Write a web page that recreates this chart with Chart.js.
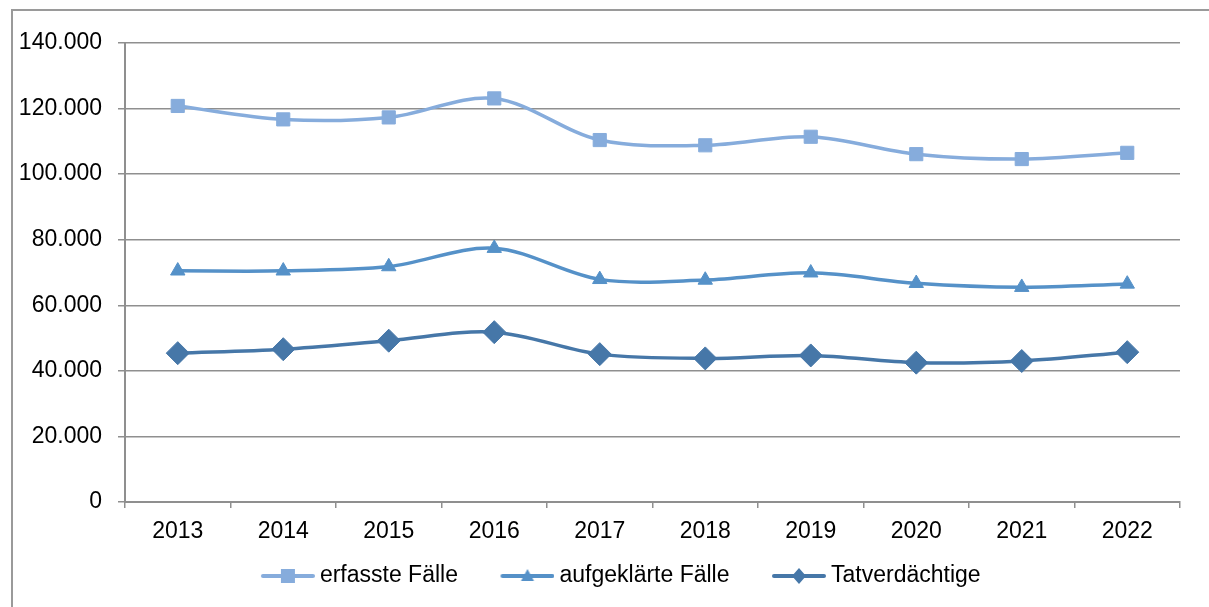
<!DOCTYPE html>
<html lang="de">
<head>
<meta charset="utf-8">
<title>Fälle und Tatverdächtige 2013-2022</title>
<script src="https://cdn.jsdelivr.net/npm/chart.js@4/dist/chart.umd.min.js"></script>
<style>
  html, body { margin: 0; padding: 0; background: #fff; overflow: hidden; }
  #rahmen {
    position: absolute; left: 11px; top: 9px; width: 1400px; height: 800px;
    border-left: 2px solid #9a9a9a; border-top: 2px solid #9a9a9a;
  }
  #box { position: absolute; left: 0; top: 0; width: 1209px; height: 607px; }
</style>
</head>
<body>
<div id="rahmen"></div>
<div id="box"><canvas id="grafik" width="1209" height="607"></canvas></div>
<script>
// Daten
const jahre = ["2013", "2014", "2015", "2016", "2017", "2018", "2019", "2020", "2021", "2022"];
const erfassteFaelle = [120800, 116700, 117300, 123100, 110400, 108800, 111400, 106100, 104600, 106500];
const aufgeklaerteFaelle = [70500, 70500, 71800, 77400, 67900, 67700, 69900, 66700, 65500, 66500];
const tatverdaechtige = [45400, 46600, 49200, 51800, 45100, 43800, 44700, 42500, 43000, 45700];

const namen = ["erfasste Fälle", "aufgeklärte Fälle", "Tatverdächtige"];
const farben = ["#86acdc", "#5591c8", "#4677a8"];

const schrift = { family: "Arial, 'Liberation Sans', sans-serif", size: 23 };
const grau = "#8f8f8f";

// 20000 -> "20.000"
function tausender(v) {
  return String(v).replace(/\B(?=(\d{3})+(?!\d))/g, ".");
}

// Legendensymbol: Linie mit Marker, rechts im Bild (links bleibt Luft zum vorigen Eintrag)
function legendenSymbol(farbe, form) {
  const c = document.createElement("canvas");
  c.width = 93;
  c.height = 24;
  const ctx = c.getContext("2d");
  const x0 = c.width - 54, mx = c.width - 27, my = 12;
  ctx.strokeStyle = farbe;
  ctx.fillStyle = farbe;
  ctx.lineWidth = 4;
  ctx.lineCap = "round";
  ctx.beginPath();
  ctx.moveTo(x0 + 2, my);
  ctx.lineTo(c.width - 2, my);
  ctx.stroke();
  ctx.beginPath();
  if (form === "rect") {
    ctx.rect(mx - 7, my - 7, 14, 14);
  } else if (form === "triangle") {
    ctx.moveTo(mx, my - 7);
    ctx.lineTo(mx + 6.5, my + 5);
    ctx.lineTo(mx - 6.5, my + 5);
    ctx.closePath();
  } else {
    ctx.moveTo(mx, my - 8);
    ctx.lineTo(mx + 7, my);
    ctx.lineTo(mx, my + 8);
    ctx.lineTo(mx - 7, my);
    ctx.closePath();
  }
  ctx.fill();
  return c;
}

const symbole = [
  legendenSymbol(farben[0], "rect"),
  legendenSymbol(farben[1], "triangle"),
  legendenSymbol(farben[2], "rectRot")
];

function serie(i, werte, form, radius, breite) {
  return {
    label: namen[i],
    data: werte,
    borderColor: farben[i],
    backgroundColor: farben[i],
    borderWidth: breite,
    tension: 0.33,
    pointStyle: form,
    pointRadius: radius,
    pointHoverRadius: radius,
    pointBorderWidth: 1,
    pointBackgroundColor: farben[i],
    pointBorderColor: farben[i]
  };
}

new Chart(document.getElementById("grafik"), {
  type: "line",
  data: {
    labels: jahre,
    datasets: [
      serie(0, erfassteFaelle, "rect", 9.3, 3.5),
      serie(1, aufgeklaerteFaelle, "triangle", 8.3, 3.5),
      serie(2, tatverdaechtige, "rectRot", 11.5, 3.5)
    ]
  },
  options: {
    responsive: false,
    animation: false,
    events: [],
    layout: { padding: { left: 0, right: 0, top: 43, bottom: 9.5 } },
    plugins: {
      tooltip: { enabled: false },
      legend: {
        position: "bottom",
        align: "center",
        labels: {
          usePointStyle: true,
          pointStyleWidth: 80,
          padding: 10,
          color: "#000",
          font: schrift,
          generateLabels(chart) {
            const items = Chart.defaults.plugins.legend.labels.generateLabels(chart);
            items.forEach((it, i) => { it.pointStyle = symbole[i]; });
            return items;
          }
        }
      }
    },
    scales: {
      x: {
        offset: true,
        grid: {
          offset: true,
          drawOnChartArea: false,
          drawTicks: true,
          tickLength: 6,
          color: grau,
          lineWidth: 1.5
        },
        border: { color: grau, width: 2 },
        ticks: { color: "#000", font: schrift, padding: 10, maxRotation: 0 },
        afterFit(s) { s.height = 52.5; }
      },
      y: {
        min: 0,
        max: 140000,
        grid: { color: grau, lineWidth: 1.5, tickLength: 7 },
        border: { color: grau, width: 2 },
        ticks: {
          stepSize: 20000,
          color: "#000",
          font: schrift,
          padding: 16,
          callback: (v) => tausender(v)
        },
        afterFit(s) { s.width = 125; }
      },
      // leerer Rand rechts neben der Zeichenfläche
      rand: {
        position: "right",
        grid: { display: false },
        border: { display: false },
        ticks: { display: false },
        afterFit(s) { s.width = 29; }
      }
    }
  }
});
</script>
</body>
</html>
